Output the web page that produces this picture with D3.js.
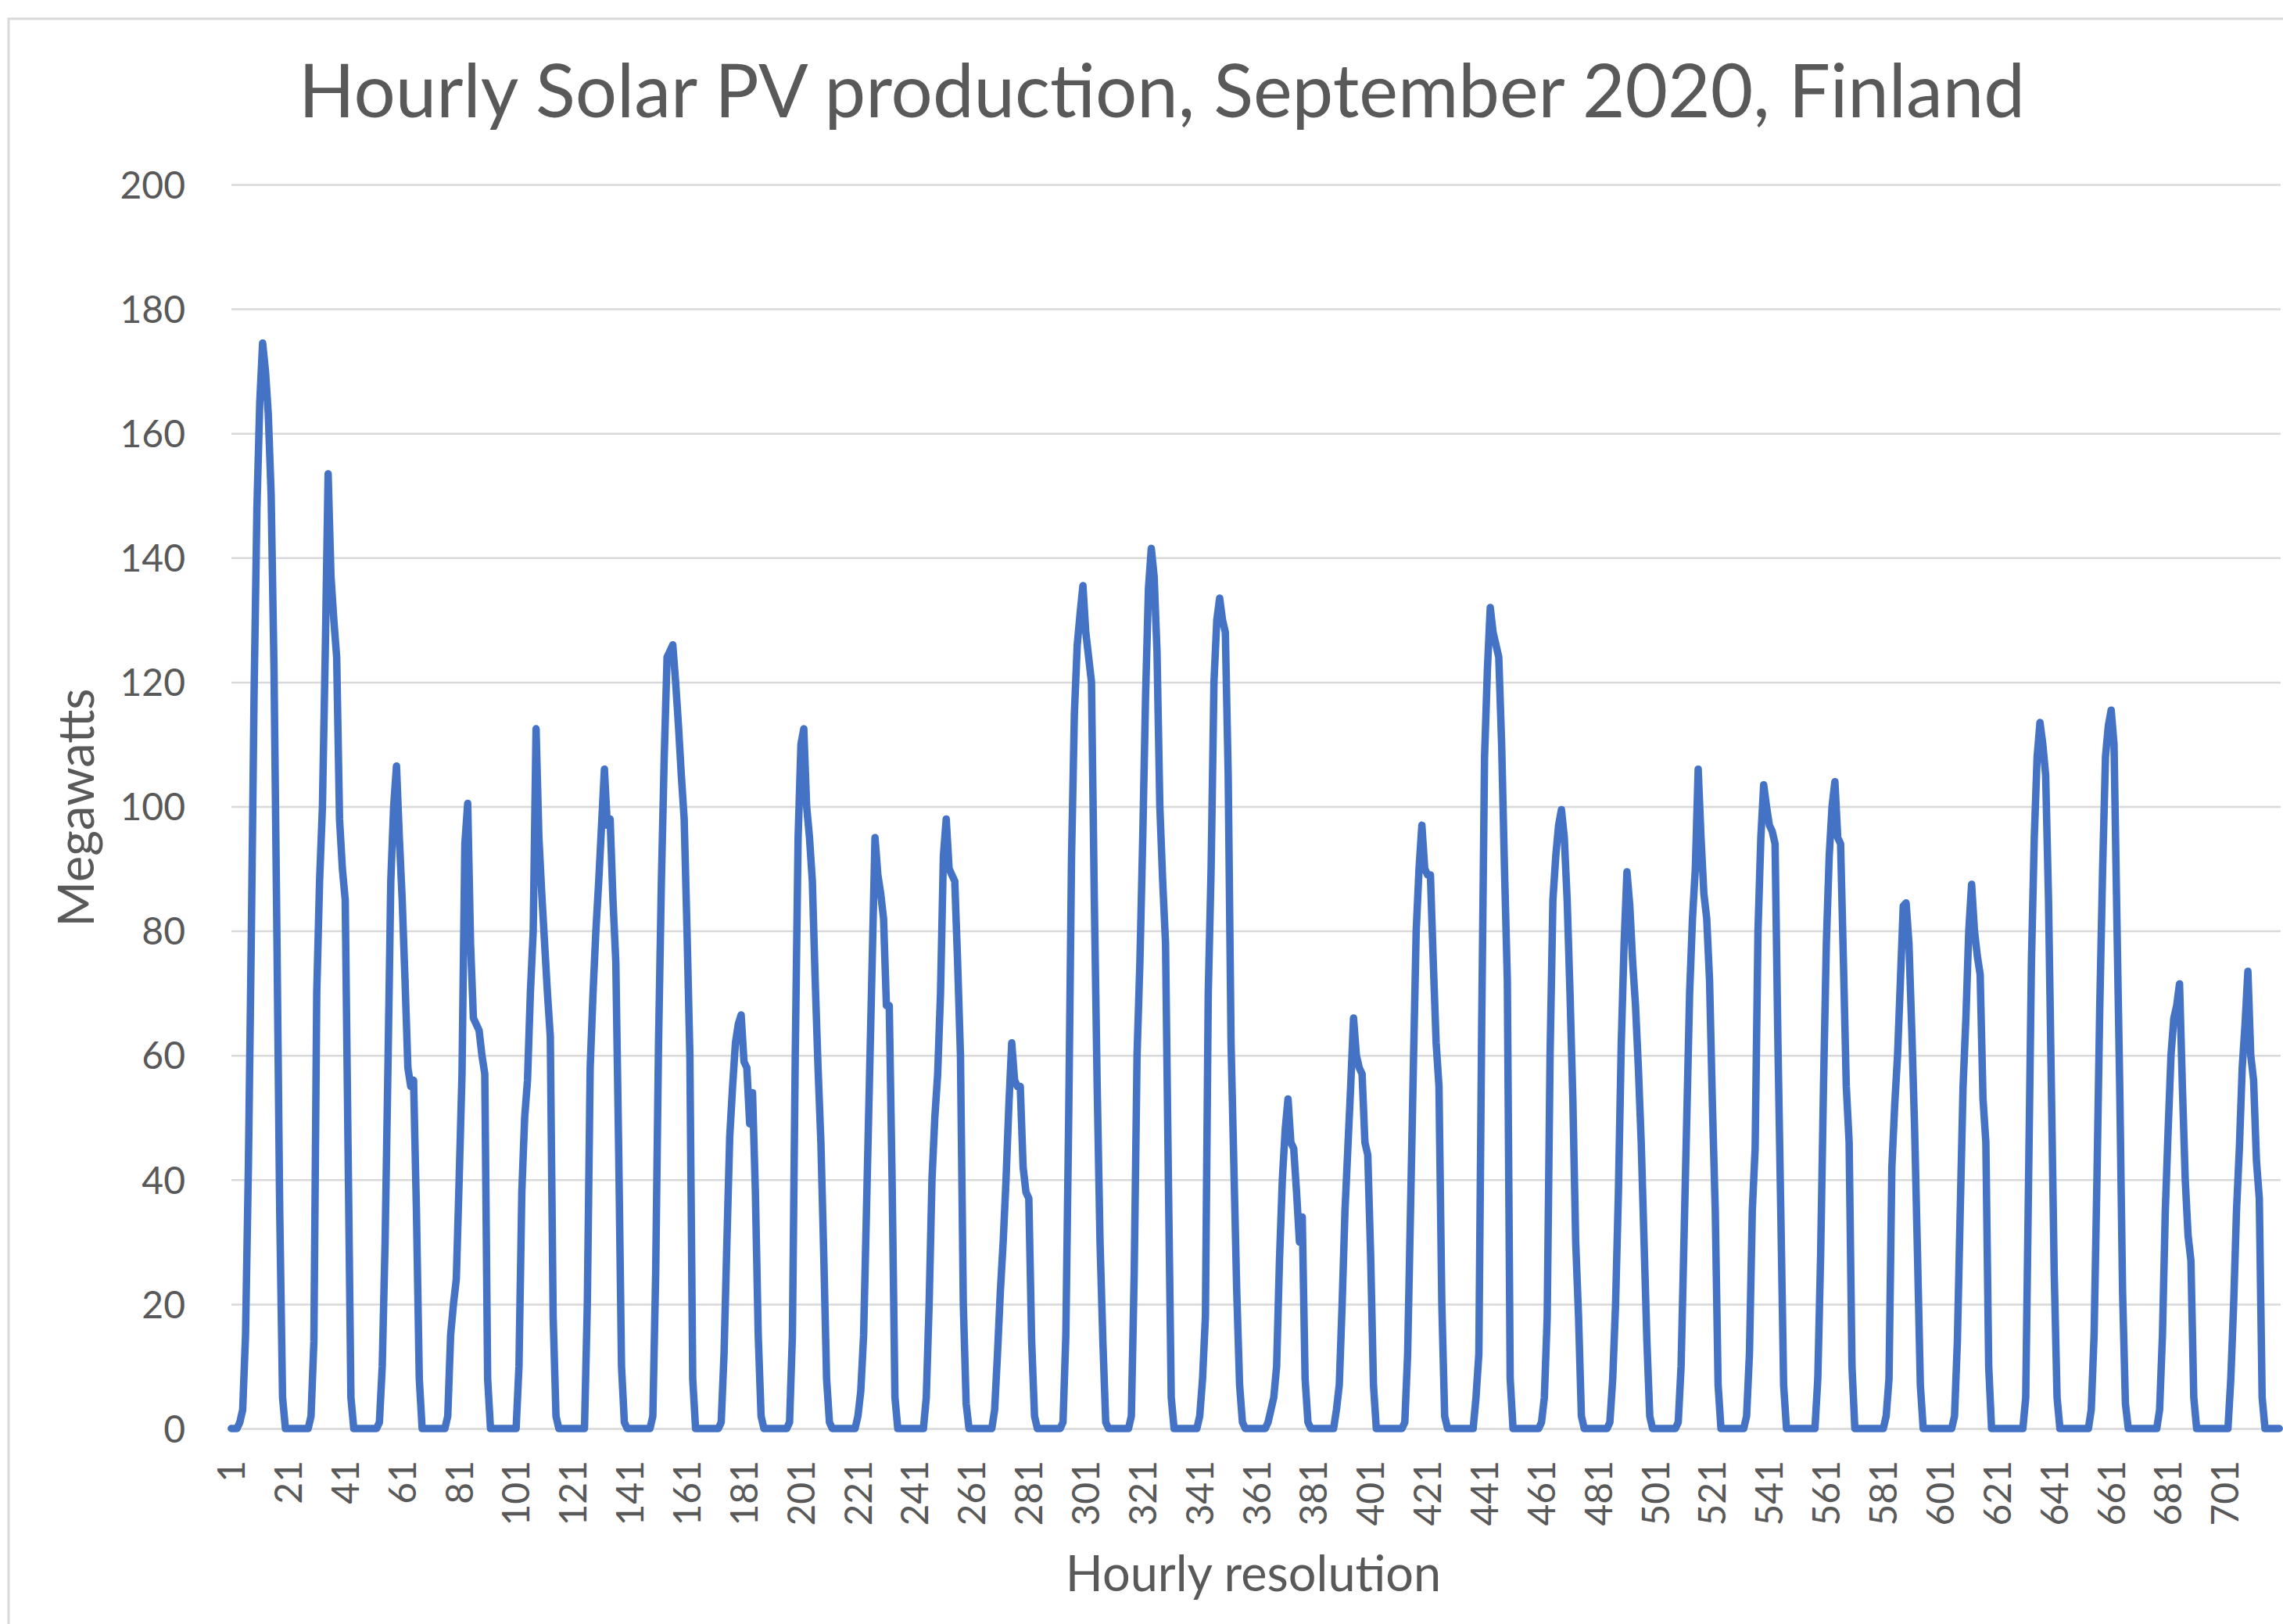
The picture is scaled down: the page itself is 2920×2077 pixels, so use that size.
<!DOCTYPE html>
<html>
<head>
<meta charset="utf-8">
<script src="https://cdn.jsdelivr.net/npm/d3@7"></script>
<style>
	html, body { margin: 0; padding: 0; background: #fff; }
	svg { display: block; font-family: Lato, 'Open Sans', sans-serif; }
	.tick-label, .axis-title, .chart-title { fill: #595959; }
</style>
</head>
<body>
<svg id="chart" width="2920" height="2077"></svg>
<script>
// hourly output (MW) for each day of September 2020, hours 0..23
const days = [
	[0,0,0,1,3,15,42,78,118,148,165,174.5,170,163,150,122,80,35,5,0,0,0,0,0],
	[0,0,0,0,2,14,70,88,100,125,153.5,137,130,124,98,90,85,45,5,0,0,0,0,0],
	[0,0,0,0,1,10,30,58,88,100,106.5,95,85,72,58,55,56,35,8,0,0,0,0,0],
	[0,0,0,0,2,15,20,24,40,57,94,100.5,78,66,65,64,60,57,8,0,0,0,0,0],
	[0,0,0,0,0,10,38,50,56,70,80,112.5,95,86,78,70,63,18,2,0,0,0,0,0],
	[0,0,0,0,0,20,58,70,80,88,97,106,97,98,85,75,45,10,1,0,0,0,0,0],
	[0,0,0,0,2,25,62,88,108,124,125,126,120,113,105,98,80,60,8,0,0,0,0,0],
	[0,0,0,0,1,12,30,47,55,62,65,66.5,59,58,49,54,38,15,2,0,0,0,0,0],
	[0,0,0,0,1,15,60,95,110,112.5,100,95,88,72,58,46,28,8,1,0,0,0,0,0],
	[0,0,0,0,2,6,15,35,55,75,95,89,86,82,68,68,40,5,0,0,0,0,0,0],
	[0,0,0,0,5,20,40,50,57,70,92,98,90,89,88,75,60,20,4,0,0,0,0,0],
	[0,0,0,0,3,12,22,30,40,52,62,56,55,55,42,38,37,14,2,0,0,0,0,0],
	[0,0,0,0,1,15,50,92,115,126,131,135.5,128,124,120,85,55,30,14,1,0,0,0,0],
	[0,0,0,0,2,25,60,75,95,118,135,141.5,137,125,100,88,78,40,5,0,0,0,0,0],
	[0,0,0,0,2,8,18,70,90,120,130,133.5,130,128,105,62,42,22,7,1,0,0,0,0],
	[0,0,0,0,1,3,5,10,27,40,48,53,46,45,38,30,34,8,1,0,0,0,0,0],
	[0,0,0,0,3,7,20,35,45,55,66,60,58,57,46,44,28,7,0,0,0,0,0,0],
	[0,0,0,0,1,12,35,58,80,90,97,90,89,89,75,62,55,20,2,0,0,0,0,0],
	[0,0,0,0,0,5,12,65,108,122,132,128,126,124,110,90,72,8,0,0,0,0,0,0],
	[0,0,0,0,1,5,18,60,85,92,97,99.5,95,85,70,53,30,18,2,0,0,0,0,0],
	[0,0,0,0,1,8,20,38,62,78,89.5,84,75,68,58,46,30,14,2,0,0,0,0,0],
	[0,0,0,0,1,10,30,50,70,82,90,106,95,86,82,72,52,35,7,0,0,0,0,0],
	[0,0,0,0,2,12,35,45,80,95,103.5,100,97,96,94,62,35,7,0,0,0,0,0,0],
	[0,0,0,0,0,8,28,55,78,92,100,104,95,94,75,55,46,10,0,0,0,0,0,0],
	[0,0,0,0,0,2,8,42,52,60,72,84,84.5,78,64,48,28,7,0,0,0,0,0,0],
	[0,0,0,0,0,2,14,35,55,66,80,87.5,80,76,73,53,46,10,0,0,0,0,0,0],
	[0,0,0,0,0,0,5,40,75,95,108,113.5,110,105,85,55,25,5,0,0,0,0,0,0],
	[0,0,0,0,0,3,15,40,68,90,108,113,115.5,110,82,55,22,4,0,0,0,0,0,0],
	[0,0,0,0,0,3,15,35,48,60,66,68,71.5,55,40,31,27,5,0,0,0,0,0,0],
	[0,0,0,0,0,0,8,20,35,45,58,65,73.5,60,56,43,37,5,0,0,0,0,0,0],
];

const xTickLabels = [1, 21, 41, 61, 81, 101, 121, 141, 161, 181, 201, 221, 241, 261, 281, 301, 321, 341, 361, 381, 401, 421, 441, 461, 481, 501, 521, 541, 561, 581, 601, 621, 641, 661, 681, 701];
const yTicks = [0, 20, 40, 60, 80, 100, 120, 140, 160, 180, 200];

const title = 'Hourly Solar PV production, September 2020, Finland';
const xTitle = 'Hourly resolution';
const yTitle = 'Megawatts';

// flatten to one series, hour number starting at 1
const series = days.flat().map((value, i) => ({ hour: i + 1, value }));

const plot = { left: 294, right: 2917, top: 236, bottom: 1827 };

const svg = d3.select('#chart');

// chart area border (runs off the right and bottom of the picture)
svg.append('rect')
	.attr('x', 11)
	.attr('y', 24)
	.attr('width', 4000)
	.attr('height', 4000)
	.attr('fill', '#fff')
	.attr('stroke', '#d9d9d9')
	.attr('stroke-width', 3);

const xscale = d3.scaleBand()
	.domain(series.map(d => d.hour))
	.range([plot.left, plot.right])
	.padding(0);
const xc = h => xscale(h) + xscale.bandwidth() / 2;

const yscale = d3.scaleLinear()
	.domain([0, 200])
	.range([plot.bottom, plot.top]);

// gridlines + y labels
const gy = svg.append('g')
	.attr('transform', `translate(${[plot.left, 0]})`)
	.call(d3.axisLeft(yscale)
		.tickValues(yTicks)
		.tickSize(-(plot.right - plot.left))
		.tickPadding(57)
		.tickFormat(d3.format('d')))
	.attr('font-family', null)
	.attr('font-size', null);
gy.select('.domain').remove();
gy.selectAll('.tick line')
	.attr('stroke', '#d9d9d9')
	.attr('stroke-width', 2.5)
	.attr('x1', 2);
gy.selectAll('.tick text')
	.attr('class', 'tick-label')
	.attr('font-size', 48)
	.attr('dy', '0.36em');

// x labels, rotated, every 20th hour
const gx = svg.append('g')
	.attr('transform', `translate(${[0, plot.bottom]})`)
	.call(d3.axisBottom(xscale)
		.tickValues(xTickLabels)
		.tickSize(0)
		.tickPadding(0))
	.attr('font-family', null)
	.attr('font-size', null);
gx.select('.domain').remove();
gx.selectAll('.tick text')
	.attr('class', 'tick-label')
	.attr('font-size', 48)
	.attr('text-anchor', 'end')
	.attr('transform', 'translate(0,41) rotate(-90)')
	.attr('x', 0)
	.attr('y', 0)
	.attr('dy', '0.36em');

// the series
const line = d3.line()
	.x(d => xc(d.hour))
	.y(d => yscale(d.value));

svg.append('path')
	.datum(series)
	.attr('fill', 'none')
	.attr('stroke', '#4472c4')
	.attr('stroke-width', 9.5)
	.attr('stroke-linejoin', 'round')
	.attr('stroke-linecap', 'round')
	.attr('d', line);

// titles
const t = svg.append('text')
	.attr('class', 'chart-title')
	.attr('x', 1486)
	.attr('y', 150)
	.attr('text-anchor', 'middle')
	.attr('font-size', 88)
	.text(title);
// fit to the width used in the original
const tw = t.node().getComputedTextLength();
t.attr('font-size', 88 * 2208 / tw);

svg.append('text')
	.attr('class', 'axis-title')
	.attr('x', 1603)
	.attr('y', 2035)
	.attr('text-anchor', 'middle')
	.attr('font-size', 63)
	.text(xTitle);

svg.append('text')
	.attr('class', 'axis-title')
	.attr('transform', 'translate(97,1033) rotate(-90)')
	.attr('text-anchor', 'middle')
	.attr('dy', '0.36em')
	.attr('font-size', 63)
	.text(yTitle);
</script>
</body>
</html>
